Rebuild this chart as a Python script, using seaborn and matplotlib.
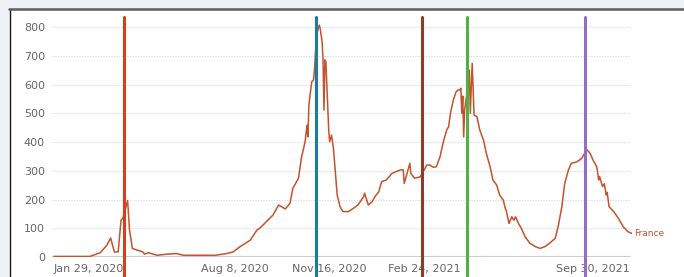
import matplotlib
matplotlib.use("Agg")
import matplotlib.pyplot as plt
import seaborn as sns
import pandas as pd
from matplotlib.patches import Rectangle
from matplotlib.lines import Line2D

# ---------------- data ----------------
start_date = "2020-01-29"
days = [0, 38, 49, 56, 60, 64, 68, 71, 73, 78, 80, 83, 88, 94, 96, 100, 109, 120, 130, 137,
        155, 171, 183, 190, 197, 200, 208, 215, 218, 225, 232, 238, 245, 250, 253, 259, 262,
        266, 268, 269, 270, 273, 275, 276, 278, 281, 282, 284, 285, 286, 287, 288, 291, 292,
        294, 296, 298, 300, 303, 306, 312, 317, 322, 328, 329, 333, 337, 340, 344, 347, 352,
        358, 367, 370, 371, 374, 377, 378, 382, 388, 391, 395, 398, 402, 405, 409, 412, 416,
        418, 420, 423, 426, 428, 430, 431, 432, 433, 434, 435, 437, 440, 441, 443, 445, 448,
        451, 455, 458, 462, 465, 469, 472, 476, 478, 479, 482, 485, 487, 489, 492, 495, 499,
        504, 510, 515, 520, 525, 531, 534, 538, 541, 545, 548, 554, 559, 562, 565, 568, 571,
        575, 577, 578, 581, 583, 585, 586, 588, 593, 598, 603, 608, 612]
values = [2, 2, 15, 41, 66, 17, 18, 128, 135, 196, 94, 30, 24, 18, 10, 15, 6, 10, 12, 6,
          6, 6, 12, 18, 36, 42, 59, 94, 100, 123, 146, 181, 167, 187, 239, 274, 343,
          401, 459, 418, 529, 610, 616, 656, 772, 807, 795, 749, 686, 511, 686, 680, 442, 401,
          424, 378, 297, 216, 175, 158, 158, 169, 181, 210, 222, 181, 192, 210, 227, 262, 268,
          291, 303, 303, 256, 291, 326, 291, 274, 279, 297, 320, 320, 312, 314, 349, 395, 442,
          453, 500, 546, 575, 581, 581, 587, 500, 560, 418, 511, 560, 650, 500, 674, 494, 488,
          442, 407, 360, 314, 268, 250, 216, 198, 169, 163, 117, 140, 128, 140, 117, 100, 71,
          48, 36, 30, 36, 48, 65, 105, 175, 256, 303, 326, 331, 343, 360, 372, 360, 337,
          314, 268, 280, 245, 255, 216, 225, 175, 158, 134, 105, 88, 82]
series_name = "France"

event_dates = ["2020-04-12", "2020-11-02", "2021-02-22", "2021-04-10", "2021-08-13"]
event_colors = ["#dc3a22", "#1c7aa3", "#8e3b2a", "#4eb33f", "#9070bf"]

tick_dates = ["2020-01-29", "2020-08-08", "2020-11-16", "2021-02-24", "2021-09-30"]
tick_labels = ["Jan 29, 2020", "Aug 8, 2020", "Nov 16, 2020", "Feb 24, 2021", "Sep 30, 2021"]
yticks = [0, 100, 200, 300, 400, 500, 600, 700, 800]

# ---------------- figure ----------------
sns.set_style("white")
plt.rcParams['font.family'] = ['DejaVu Sans']

W, H = 684, 277
fig = plt.figure(figsize=(W / 100, H / 100), dpi=100)
fig.patch.set_facecolor("#edf1f6")

# white panel with border
fig.add_artist(Rectangle((9 / W, 0), 1, (H - 8.5) / H, transform=fig.transFigure,
                         facecolor="white", edgecolor="none", zorder=-5))
fig.add_artist(Line2D([9.5 / W, 9.5 / W], [0, (H - 8.5) / H], transform=fig.transFigure,
                      color="#111111", lw=1.0, zorder=-4))
fig.add_artist(Line2D([9 / W, 1], [(H - 8.5) / H] * 2, transform=fig.transFigure,
                      color="#5e5e5e", lw=1.8, zorder=-4))

ax = fig.add_axes([52 / W, 20 / H, 580 / W, 240 / H])
ax.patch.set_alpha(0)

start = pd.Timestamp(start_date)
df = pd.DataFrame({"date": start + pd.to_timedelta(days, unit="D"), "value": values})

line_color = "#c4532c"
sns.lineplot(data=df, x="date", y="value", ax=ax, color=line_color, lw=1.1, zorder=3)

ax.set_xlim(start - pd.Timedelta(days=2.12), start + pd.Timedelta(days=612.3))
ax.set_ylim(0, 835)

for s in ax.spines.values():
    s.set_visible(False)

# grid
for y in yticks[1:]:
    ax.axhline(y, xmin=0, xmax=0.9966, color="#dcdcdc", lw=0.8, ls=(0, (1.2, 1.2)), zorder=1)
ax.axhline(0, xmin=0, xmax=0.9966, color="#cccccc", lw=1.5, zorder=2)

ax.set_yticks(yticks)
ax.set_yticklabels([str(v) for v in yticks])
ax.tick_params(axis="y", length=0, pad=5, labelsize=8, labelcolor="#666666")

ax.set_xticks(pd.to_datetime(tick_dates))
ax.set_xticklabels(tick_labels)
ax.tick_params(axis="x", length=3, width=0.8, color="#cccccc", pad=2, labelsize=8,
               labelcolor="#666666")
xl = ax.get_xticklabels()
xl[0].set_horizontalalignment("left")
xl[-1].set_horizontalalignment("right")

ax.set_xlabel("")
ax.set_ylabel("")

# event lines
for d, c in zip(event_dates, event_colors):
    ax.axvline(pd.Timestamp(d), ymin=-20 / 240, ymax=1, color=c, lw=2.2, clip_on=False, zorder=4)

# end label
ax.annotate(series_name, xy=(df["date"].iloc[-1], values[-1]), xytext=(1.5, 0),
            textcoords="offset points", fontsize=6.5, color=line_color, va="center",
            ha="left", annotation_clip=False)

fig.savefig("out.png", dpi=100, facecolor=fig.get_facecolor())
